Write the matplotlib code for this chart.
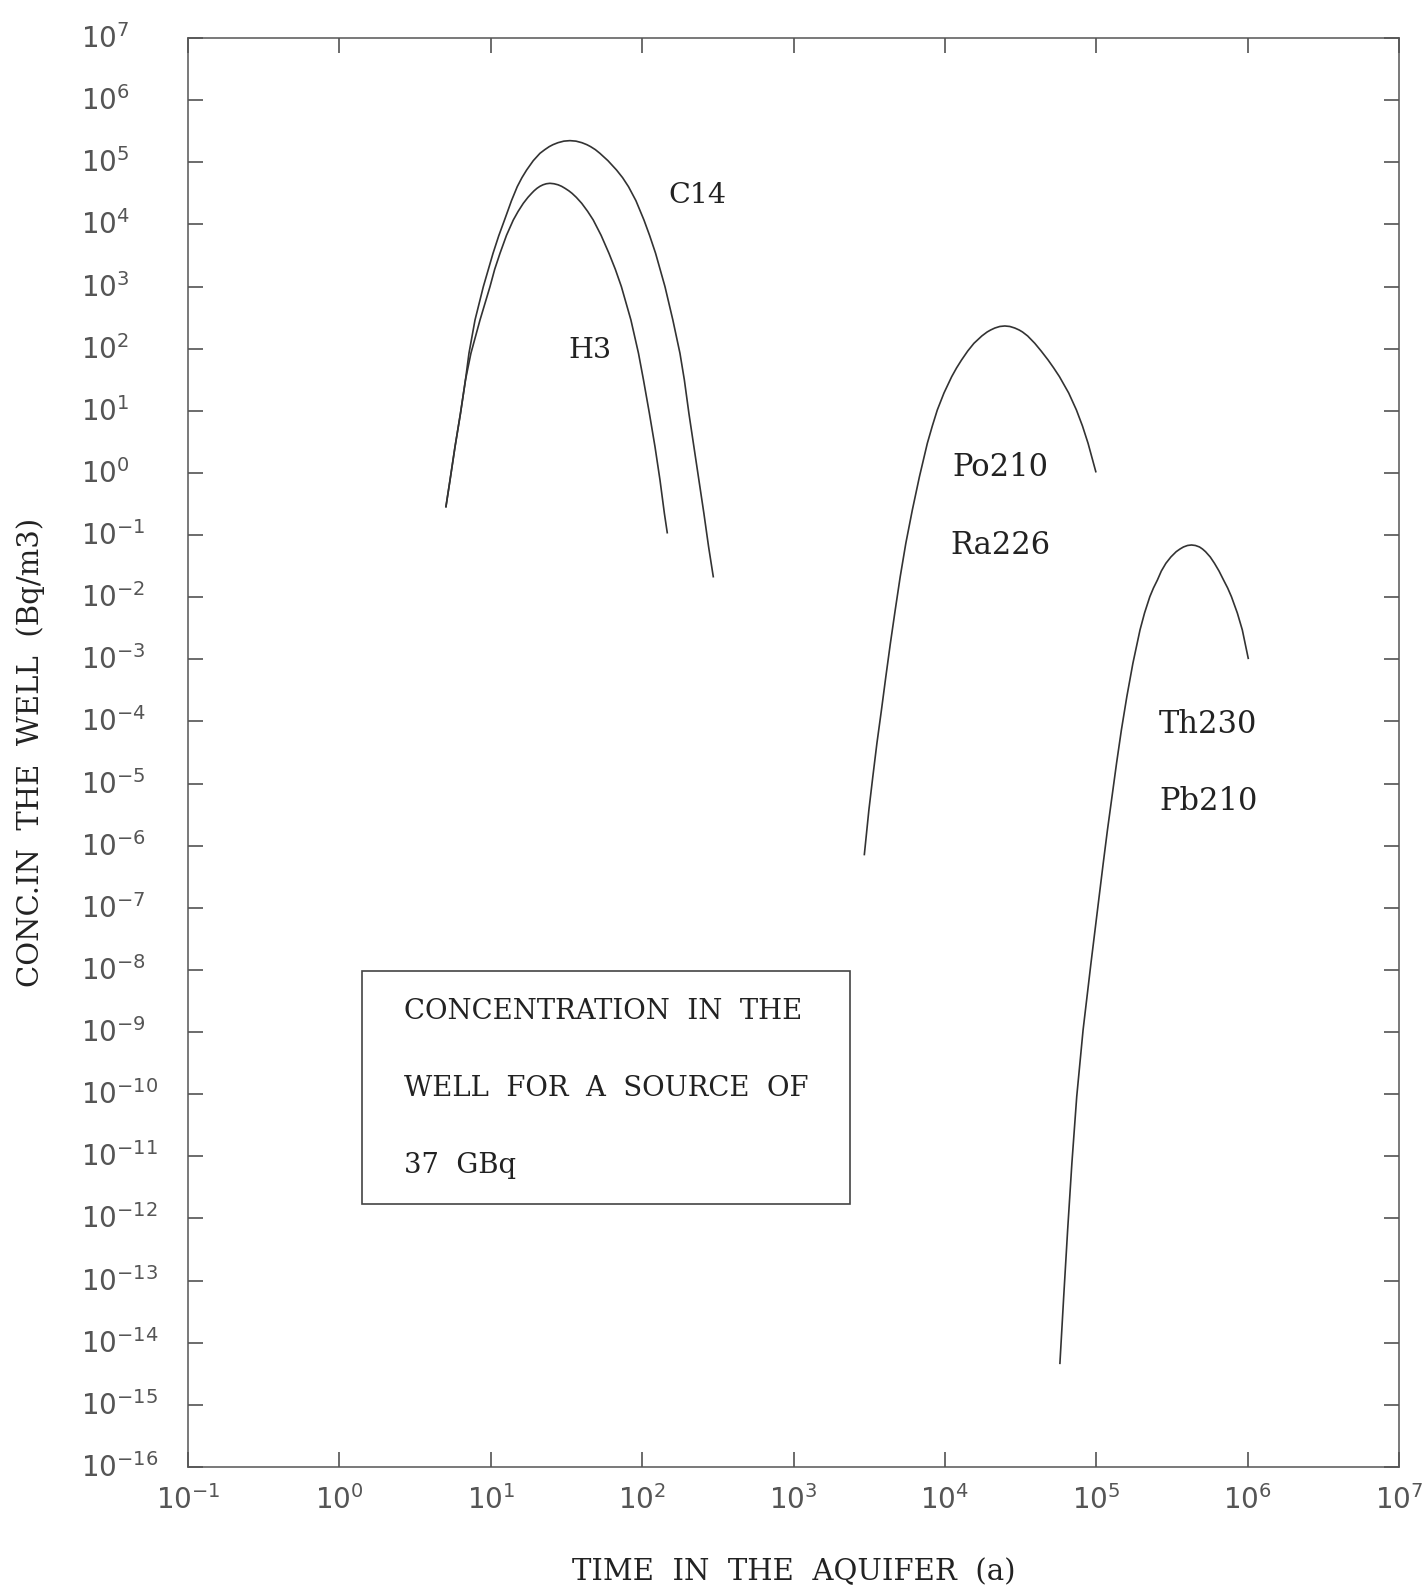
import matplotlib
matplotlib.use('Agg')
import matplotlib.pyplot as plt
import matplotlib.transforms as mtransforms
from matplotlib.patches import Rectangle
from matplotlib.ticker import NullLocator
import numpy as np

# ---- data (log10 of time in a, log10 of Bq/m3) ----
c14_logt = [0.704, 0.731, 0.764, 0.800, 0.833, 0.856, 0.896, 0.951, 1.015, 1.053, 1.091, 1.137,
            1.175, 1.206, 1.237, 1.281, 1.325, 1.357, 1.386, 1.411, 1.444, 1.483, 1.523, 1.563,
            1.602, 1.635, 1.660, 1.691, 1.721, 1.774, 1.831, 1.871, 1.910, 1.959, 2.012, 2.050,
            2.089, 2.151, 2.203, 2.250, 2.279, 2.309, 2.342, 2.375, 2.408, 2.439, 2.470]
c14_logc = [-0.543, -0.114, 0.422, 0.959, 1.496, 1.925, 2.461, 2.998, 3.534, 3.818, 4.071, 4.382,
            4.607, 4.752, 4.875, 5.026, 5.144, 5.203, 5.251, 5.283, 5.315, 5.340, 5.348, 5.340,
            5.315, 5.283, 5.251, 5.203, 5.144, 5.026, 4.875, 4.752, 4.607, 4.382, 4.071, 3.818,
            3.534, 2.998, 2.461, 1.925, 1.496, 0.959, 0.422, -0.114, -0.651, -1.187, -1.670]

h3_logt = [0.704, 0.731, 0.764, 0.800, 0.833, 0.869, 0.929, 0.995, 1.026, 1.061, 1.104, 1.149,
           1.181, 1.215, 1.246, 1.270, 1.286, 1.305, 1.325, 1.345, 1.367, 1.391, 1.418, 1.445,
           1.468, 1.491, 1.516, 1.537, 1.565, 1.601, 1.640, 1.677, 1.729, 1.781, 1.823, 1.863,
           1.926, 1.976, 2.009, 2.048, 2.085, 2.118, 2.147, 2.166]
h3_logc = [-0.543, -0.114, 0.422, 0.959, 1.496, 1.925, 2.461, 2.998, 3.277, 3.534, 3.824, 4.071,
           4.210, 4.339, 4.436, 4.500, 4.540, 4.580, 4.613, 4.637, 4.654, 4.661, 4.654, 4.637,
           4.613, 4.580, 4.540, 4.500, 4.436, 4.339, 4.210, 4.071, 3.824, 3.534, 3.277, 2.998,
           2.461, 1.925, 1.496, 0.959, 0.422, -0.114, -0.651, -0.962]

po210_logt = [3.468, 3.498, 3.524, 3.551, 3.581, 3.610, 3.640, 3.672, 3.705, 3.742, 3.785, 3.832,
              3.884, 3.917, 3.950, 3.994, 4.045, 4.077, 4.110, 4.151, 4.192, 4.244, 4.279, 4.302,
              4.330, 4.363, 4.396, 4.429, 4.462, 4.491, 4.513, 4.547, 4.594, 4.636, 4.682, 4.719,
              4.757, 4.818, 4.869, 4.909, 4.946, 4.997]
po210_logc = [-6.142, -5.425, -4.889, -4.352, -3.816, -3.279, -2.743, -2.206, -1.670, -1.133, -0.597, -0.060,
              0.476, 0.755, 1.013, 1.286, 1.549, 1.689, 1.817, 1.962, 2.086, 2.204, 2.268, 2.300,
              2.332, 2.357, 2.365, 2.357, 2.332, 2.300, 2.268, 2.204, 2.086, 1.962, 1.817, 1.689,
              1.549, 1.286, 1.013, 0.755, 0.476, 0.020]

th230_logt = [4.760, 4.785, 4.811, 4.839, 4.871, 4.913, 4.939, 4.965, 4.992, 5.019, 5.046, 5.074,
              5.104, 5.134, 5.166, 5.202, 5.242, 5.289, 5.319, 5.354, 5.378, 5.404, 5.430, 5.460,
              5.493, 5.528, 5.553, 5.576, 5.603, 5.629, 5.655, 5.682, 5.702, 5.722, 5.753, 5.781,
              5.811, 5.841, 5.868, 5.893, 5.932, 5.965, 6.004]
th230_logc = [-14.331, -13.258, -12.185, -11.112, -10.039, -8.966, -8.430, -7.893, -7.357, -6.820, -6.284, -5.747,
              -5.211, -4.674, -4.138, -3.601, -3.065, -2.528, -2.255, -1.992, -1.852, -1.724, -1.579, -1.455,
              -1.353, -1.268, -1.225, -1.192, -1.168, -1.160, -1.168, -1.192, -1.225, -1.268, -1.353, -1.455,
              -1.579, -1.724, -1.852, -1.992, -2.255, -2.528, -2.984]

x_exps = list(range(-1, 8))
y_exps = list(range(-16, 8))

# label, time, concentration, font size
curve_labels = [
    ("C14", 230, 2.9e4, 20.5),
    ("H3", 45.2, 95, 20.5),
    ("Po210", 2.34e4, 1.22, 22),
    ("Ra226", 2.34e4, 0.0667, 22),
    ("Th230", 5.5e5, 8.85e-5, 22),
    ("Pb210", 5.5e5, 5.05e-6, 22),
]
box_lines = ["CONCENTRATION  IN  THE", "WELL  FOR  A  SOURCE  OF", "37  GBq"]

# ---- figure ----
W, H = 1425, 1594
fig = plt.figure(figsize=(W / 100, H / 100), dpi=100)
fig.patch.set_facecolor('white')
ax = fig.add_axes([188 / W, (H - 1467) / H, (1399 - 188) / W, (1467 - 38) / H])
ax.set_xscale('log')
ax.set_yscale('log')
ax.set_xlim(10.0 ** x_exps[0], 10.0 ** x_exps[-1])
ax.set_ylim(10.0 ** y_exps[0], 10.0 ** y_exps[-1])

line_col = '#333333'
for lt, lc in [(c14_logt, c14_logc), (h3_logt, h3_logc),
               (po210_logt, po210_logc), (th230_logt, th230_logc)]:
    ax.plot(10.0 ** np.asarray(lt), 10.0 ** np.asarray(lc), color=line_col, lw=1.2,
            solid_joinstyle='round')

serif = 'DejaVu Serif'
for name, tx, ty, fs in curve_labels:
    ax.text(tx, ty, name, ha='center', va='center', fontsize=fs,
            family=serif, color='#222222')

# Box
ax.add_patch(Rectangle((0.1435, 0.1838), 0.4029, 0.1635, transform=ax.transAxes,
                       fill=False, lw=1.2, ec='#444444'))
for i, line in enumerate(box_lines):
    ax.text(0.178, 0.3189 - i * 0.0541, line, transform=ax.transAxes,
            ha='left', va='center', fontsize=19.8, family=serif, color='#222222')

# Ticks
ax.set_xticks([10.0 ** e for e in x_exps])
ax.set_yticks([10.0 ** e for e in y_exps])
ax.xaxis.set_minor_locator(NullLocator())
ax.yaxis.set_minor_locator(NullLocator())
ax.set_xticklabels([r'$10^{%d}$' % e for e in x_exps])
ax.set_yticklabels([r'$10^{%d}$' % e for e in y_exps])
ax.tick_params(which='major', direction='in', length=10.5, width=1.1,
               color='#444444', top=True, right=True, labelsize=20,
               labelcolor='#555555')
ax.tick_params(axis='x', pad=13)
ax.tick_params(axis='y', pad=77)
for sp in ax.spines.values():
    sp.set_color('#555555')
    sp.set_linewidth(1.1)

shift = mtransforms.ScaledTranslation(0, -0.10, fig.dpi_scale_trans)
for lab in ax.get_yticklabels():
    lab.set_ha('left')
    lab.set_va('baseline')
    lab.set_transform(lab.get_transform() + shift)

fig.text(794 / W, 1 - 1572 / H, 'TIME  IN  THE  AQUIFER  (a)', ha='center', va='center',
         fontsize=21, family=serif, color='#222222')
fig.text(30.5 / W, 1 - 752 / H, 'CONC.IN  THE  WELL  (Bq/m3)', ha='center', va='center',
         rotation=90, fontsize=21, family=serif, color='#222222')

fig.savefig('out.png', dpi=100, facecolor='white')
